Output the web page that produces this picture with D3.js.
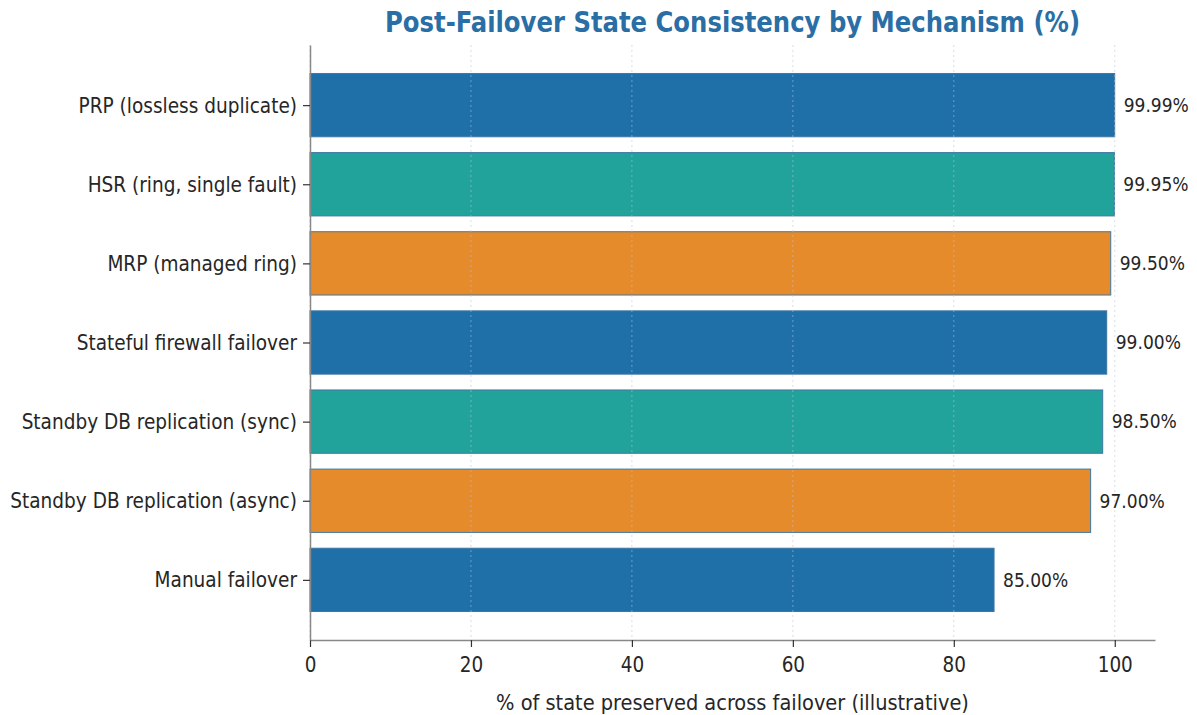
<!DOCTYPE html>
<html>
<head>
<meta charset="utf-8">
<script src="https://cdn.jsdelivr.net/npm/d3@7"></script>
<style>
  html, body { margin: 0; padding: 0; background: #fff; }
  svg { display: block; font-family: "DejaVu Sans Condensed", "DejaVu Sans", sans-serif; font-stretch: condensed; }
</style>
</head>
<body>
<svg id="chart" width="1197" height="715"></svg>
<script>
// Failover mechanisms and the share of state they keep (%)
const mechanisms = [
  "PRP (lossless duplicate)",
  "HSR (ring, single fault)",
  "MRP (managed ring)",
  "Stateful firewall failover",
  "Standby DB replication (sync)",
  "Standby DB replication (async)",
  "Manual failover"
];
const preserved = [99.99, 99.95, 99.50, 99.00, 98.50, 97.00, 85.00];
const barColors = ["#1f6fa8", "#21a39c", "#e58b2c", "#1f6fa8", "#21a39c", "#e58b2c", "#1f6fa8"];
const xTicks = [0, 20, 40, 60, 80, 100];

const FONT = "DejaVu Sans Condensed, DejaVu Sans, sans-serif";
const svg = d3.select("#chart");
const plot = { left: 310, right: 1155, top: 45, bottom: 640 };

const x = d3.scaleLinear().domain([0, 105]).range([plot.left, plot.right]);
const y = d3.scaleLinear().domain([-0.76, mechanisms.length - 0.24]).range([plot.top, plot.bottom]);
const barH = (y(1) - y(0)) * 0.8;

// narrow text helper: draws text at (px, py) squeezed horizontally by s
function narrowText(g, px, py, s) {
  return g.append("text")
    .attr("transform", `translate(${px},${py}) scale(${s},1)`)
    .attr("font-family", FONT);
}

// bars
svg.append("g").selectAll("rect")
  .data(mechanisms)
  .join("rect")
  .attr("x", x(0))
  .attr("y", (d, i) => y(i) - barH / 2)
  .attr("width", (d, i) => x(preserved[i]) - x(0))
  .attr("height", barH)
  .attr("fill", (d, i) => barColors[i])
  .attr("stroke", "#3f77a3")
  .attr("stroke-width", 1);

// vertical dotted grid
svg.append("g").selectAll("line")
  .data(xTicks)
  .join("line")
  .attr("x1", d => x(d)).attr("x2", d => x(d))
  .attr("y1", plot.top).attr("y2", plot.bottom)
  .attr("stroke", "#b8c4d0")
  .attr("stroke-opacity", 0.55)
  .attr("stroke-width", 1)
  .attr("stroke-dasharray", "2,3");

// value labels
const vals = svg.append("g");
mechanisms.forEach((d, i) => {
  narrowText(vals, x(preserved[i]) + 9, y(i), 1.0)
    .attr("dy", "0.36em")
    .attr("font-size", 19)
    .attr("fill", "#262626")
    .text(preserved[i].toFixed(2) + "%");
});

// x axis
const xAxis = svg.append("g")
  .attr("transform", `translate(0,${plot.bottom})`)
  .call(d3.axisBottom(x).tickValues(xTicks).tickSize(7).tickPadding(9).tickSizeOuter(0));
xAxis.select(".domain").attr("stroke", "#888").attr("stroke-width", 1.5);
xAxis.selectAll(".tick line").attr("stroke", "#333").attr("stroke-width", 1.2);
xAxis.selectAll(".tick text").attr("font-size", 22).attr("fill", "#262626")
  .attr("font-family", FONT).attr("transform", "scale(0.93,1)");

// y axis
const yS = 0.935;
const yAxis = svg.append("g")
  .attr("transform", `translate(${plot.left},0)`)
  .call(d3.axisLeft(y).tickValues(d3.range(mechanisms.length))
    .tickFormat(i => mechanisms[i]).tickSize(7).tickPadding(6).tickSizeOuter(0));
yAxis.select(".domain").attr("stroke", "#888").attr("stroke-width", 1.5);
yAxis.selectAll(".tick line").attr("stroke", "#333").attr("stroke-width", 1.2);
yAxis.selectAll(".tick text").attr("font-size", 22).attr("fill", "#262626")
  .attr("font-family", FONT)
  .attr("x", -13 / yS)
  .attr("transform", `scale(${yS},1)`);

// axis title
narrowText(svg, (plot.left + plot.right) / 2, 702, 0.98)
  .attr("dy", "0.35em")
  .attr("text-anchor", "middle")
  .attr("font-size", 22)
  .attr("fill", "#262626")
  .text("% of state preserved across failover (illustrative)");

// chart title
narrowText(svg, (plot.left + plot.right) / 2, 22, 0.966)
  .attr("dy", "0.35em")
  .attr("text-anchor", "middle")
  .attr("font-size", 28)
  .attr("font-weight", "bold")
  .attr("fill", "#2a6ea6")
  .text("Post-Failover State Consistency by Mechanism (%)");
</script>
</body>
</html>
